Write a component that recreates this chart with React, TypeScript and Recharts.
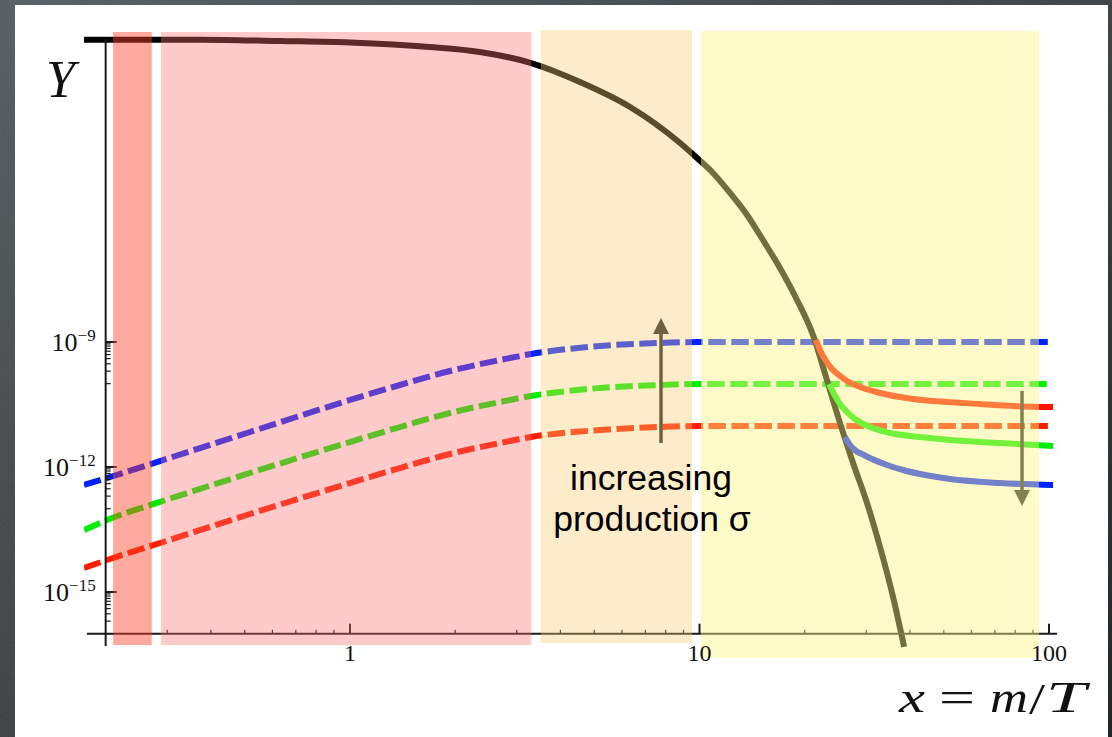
import React from 'react';
import {
  LineChart,
  Line,
  XAxis,
  YAxis,
  ReferenceArea,
  ReferenceLine,
  ReferenceDot,
} from 'recharts';

// ---- equilibrium abundance Y_eq(x) ----
const eqX = [0.1734, 0.372, 0.63, 1.0, 1.69, 2.35, 3.3, 4.55, 6.33, 8.8, 9.84, 10.93, 12.23, 13.68, 15.19, 16.99, 19.01, 21.12, 23.16, 25.23, 27.5, 30.15, 32.85, 35.79, 38.5];
const eqY = [1.8e-2, 1.8e-2, 1.67e-2, 1.54e-2, 1.2e-2, 9.1e-3, 4.95e-3, 1.74e-3, 4.37e-4, 5.97e-5, 2.6e-5, 1.14e-5, 3.77e-6, 1.12e-6, 2.8e-7, 5.97e-8, 1.02e-8, 1.47e-9, 1.22e-10, 1.14e-11, 1.25e-12, 1.37e-13, 1.2e-14, 7.6e-16, 4.8e-17];

// ---- produced abundance (dashed), three production cross sections ----
const prodX = [0.1734, 0.2017, 0.286, 0.5175, 1.0, 1.39, 1.932, 2.686, 3.296, 5.19, 7.71, 10.03, 100];
const prodHigh = [3.7e-13, 5.45e-13, 1.39e-12, 6.92e-12, 4.06e-11, 9.29e-11, 2.01e-10, 3.7e-10, 5.15e-10, 8.02e-10, 9.46e-10, 1e-9, 1e-9];
const prodMid = [3.08e-14, 5.35e-14, 1.45e-13, 7.18e-13, 3.98e-12, 9.12e-12, 1.98e-11, 3.63e-11, 5.06e-11, 7.87e-11, 9.29e-11, 9.82e-11, 9.82e-11];
const prodLow = [3.77e-15, 5.86e-15, 1.5e-14, 7.45e-14, 4.13e-13, 9.46e-13, 2.05e-12, 3.77e-12, 5.25e-12, 7.73e-12, 9.12e-12, 9.64e-12, 9.64e-12];

// ---- freeze-out relic curves (solid) ----
const relicRedX = [21.54, 22.12, 23.01, 23.94, 25.23, 26.42, 29.37, 32.85, 40.82, 51.07, 63.47, 78.89, 102.7];
const relicRedY = [1.12e-9, 6.43e-10, 3.5e-10, 2.25e-10, 1.53e-10, 1.16e-10, 7.87e-11, 5.97e-11, 4.29e-11, 3.63e-11, 3.25e-11, 2.91e-11, 2.75e-11];
const relicGreenX = [23.48, 24.26, 25.23, 26.42, 27.86, 30.74, 35.09, 42.75, 52.09, 72.4, 102.7];
const relicGreenY = [9.82e-11, 5.65e-11, 3.25e-11, 2.09e-11, 1.42e-11, 9.12e-12, 6.55e-12, 5.25e-12, 4.45e-12, 3.77e-12, 3.19e-12];
const relicBlueX = [26.08, 26.96, 28.04, 29.17, 30.74, 34.4, 38.22, 42.75, 52.09, 72.4, 102.7];
const relicBlueY = [5.25e-12, 3.37e-12, 2.42e-12, 2.05e-12, 1.64e-12, 1.12e-12, 8.47e-13, 6.79e-13, 5.15e-13, 4.13e-13, 3.7e-13];

// ---- shaded epochs ----
const bandX1 = [0.21, 0.288, 3.52, 10.1];
const bandX2 = [0.271, 3.3, 9.52, 93.6];
const bandTop = [2.75e-2, 2.75e-2, 3.07e-2, 2.9e-2];
const bandBottom = [5.37e-17, 5.37e-17, 6.0e-17, 2.63e-17];
const bandFill = ['rgb(255,67,40)', 'rgb(255,110,110)', 'rgb(250,203,111)', 'rgb(255,247,133)'];
const bandOpacity = [0.45, 0.37, 0.37, 0.45];

// ---- arrows ----
const arrowX = [7.76, 83.7];
const arrowFrom = [3.77e-12, 6.67e-11];
const arrowTo = [3.77e-9, 1.16e-13];

// ---- axes ----
const X_DOMAIN: [number, number] = [0.1734, 107.5];
const Y_DOMAIN: [number, number] = [2.336e-17, 3.431e-2];
const AXIS_X = 0.2;
const AXIS_Y = 1e-16;
const xMajorTicks = [1, 10, 100];
const xMajorLabels = ['1', '10', '100'];
const xMinorTicks = [0.3, 0.4, 0.5, 0.6, 0.7, 0.8, 0.9, 2, 3, 4, 5, 6, 7, 8, 9, 20, 30, 40, 50, 60, 70, 80, 90];
const yMajorTicks = [1e-9, 1e-12, 1e-15];
const yMajorLabels = ['\u22129', '\u221212', '\u221215'];
const yMinorFactors = [0.1, 0.2, 0.3, 0.4, 0.5, 0.6, 0.7, 0.8, 0.9];

const zip = (xs: number[], ys: number[]) => xs.map((x, i) => ({ x, y: ys[i] }));

const eqData = zip(eqX, eqY);
const highData = zip(prodX, prodHigh);
const midData = zip(prodX, prodMid);
const lowData = zip(prodX, prodLow);
const redData = zip(relicRedX, relicRedY);
const greenData = zip(relicGreenX, relicGreenY);
const blueData = zip(relicBlueX, relicBlueY);

const AXIS_COLOR = '#1a1a1a';
const ARROW_COLOR = '#222222';
const SERIF = '"Liberation Serif", "DejaVu Serif", serif';
const SANS = '"Liberation Sans", Arial, sans-serif';
const DASH = '17.5 5.5';

const yTickShape = (len: number, w: number) => (p: any) => (
  <line x1={p.cx} y1={p.cy} x2={p.cx + len} y2={p.cy} stroke={AXIS_COLOR} strokeWidth={w} />
);
const xTickShape = (len: number, w: number) => (p: any) => (
  <line x1={p.cx} y1={p.cy} x2={p.cx} y2={p.cy - len} stroke={AXIS_COLOR} strokeWidth={w} />
);
const yLabelShape = (exp: string) => (p: any) => (
  <text x={p.cx - 10} y={p.cy + 9} textAnchor="end" fontFamily={SERIF} fontSize={26} fill="#111">
    10
    <tspan dy={-10} fontSize={17}>
      {exp}
    </tspan>
  </text>
);
const xLabelShape = (label: string) => (p: any) => (
  <text x={p.cx} y={p.cy + 27} textAnchor="middle" fontFamily={SERIF} fontSize={24} fill="#111">
    {label}
  </text>
);

const arrowShape = (p: any) => {
  const { x1, y1, x2, y2 } = p;
  const dir = Math.sign(y2 - y1);
  const head = 16;
  const half = 8;
  return (
    <g>
      <line x1={x1} y1={y1} x2={x2} y2={y2 - dir * head} stroke={ARROW_COLOR} strokeWidth={3.5} />
      <polygon
        points={`${x2},${y2} ${x2 - half},${y2 - dir * head} ${x2 + half},${y2 - dir * head}`}
        fill={ARROW_COLOR}
      />
    </g>
  );
};

export default function App() {
  return (
    <div style={{ position: 'absolute', left: 0, top: 0, width: 1112, height: 737, overflow: 'hidden' }}>
      <svg width={1112} height={737} style={{ position: 'absolute', left: 0, top: 0 }}>
        <defs>
          <linearGradient id="frameShade" x1="0" y1="0" x2="1" y2="1">
            <stop offset="0" stopColor="#525c62" />
            <stop offset="0.55" stopColor="#363b3f" />
            <stop offset="1" stopColor="#1b1c1d" />
          </linearGradient>
          <filter id="frameGrain">
            <feTurbulence type="fractalNoise" baseFrequency="0.85" numOctaves={2} stitchTiles="stitch" />
            <feColorMatrix type="saturate" values="0" />
          </filter>
        </defs>
        <rect width={1112} height={737} fill="url(#frameShade)" />
        <rect width={1112} height={737} filter="url(#frameGrain)" opacity={0.12} />
        <rect x={15} y={5} width={1093} height={740} fill="#ffffff" />
      </svg>

      <div style={{ position: 'absolute', left: 0, top: 0 }}>
        <LineChart width={1112} height={737} margin={{ top: 28, right: 52, bottom: 77, left: 84 }}>
          <XAxis type="number" dataKey="x" scale="log" domain={X_DOMAIN} allowDataOverflow hide />
          <YAxis type="number" scale="log" domain={Y_DOMAIN} allowDataOverflow hide />

          {/* produced abundance, dashed */}
          <Line data={highData} dataKey="y" type="monotone" stroke="#0022ff" strokeWidth={6} strokeDasharray={DASH} dot={false} isAnimationActive={false} zIndex={400} />
          <Line data={midData} dataKey="y" type="monotone" stroke="#00ee00" strokeWidth={6} strokeDasharray={DASH} dot={false} isAnimationActive={false} zIndex={400} />
          <Line data={lowData} dataKey="y" type="monotone" stroke="#ff1e00" strokeWidth={6} strokeDasharray={DASH} dot={false} isAnimationActive={false} zIndex={400} />

          {/* equilibrium abundance */}
          <Line data={eqData} dataKey="y" type="monotone" stroke="#000000" strokeWidth={6} dot={false} isAnimationActive={false} zIndex={410} />

          {/* freeze-out relics */}
          <Line data={redData} dataKey="y" type="monotone" stroke="#ff1400" strokeWidth={6} dot={false} isAnimationActive={false} zIndex={420} />
          <Line data={greenData} dataKey="y" type="monotone" stroke="#00ee00" strokeWidth={6} dot={false} isAnimationActive={false} zIndex={420} />
          <Line data={blueData} dataKey="y" type="monotone" stroke="#0022ff" strokeWidth={6} dot={false} isAnimationActive={false} zIndex={420} />

          {/* axes lines */}
          <ReferenceLine segment={[{ x: AXIS_X, y: 5.07e-17 }, { x: AXIS_X, y: 1.9e-2 }]} stroke={AXIS_COLOR} strokeWidth={2} zIndex={450} />
          <ReferenceLine segment={[{ x: 0.1768, y: AXIS_Y }, { x: 105.4, y: AXIS_Y }]} stroke={AXIS_COLOR} strokeWidth={2} zIndex={450} />

          {yMajorTicks.map((t) => (
            <ReferenceDot key={`yM${t}`} x={AXIS_X} y={t} r={1} shape={yTickShape(11, 2)} zIndex={450} />
          ))}
          {yMajorTicks.flatMap((t) =>
            yMinorFactors.map((f) => (
              <ReferenceDot key={`ym${t}-${f}`} x={AXIS_X} y={t * f} r={1} shape={yTickShape(5, 1.2)} zIndex={450} />
            ))
          )}
          {xMajorTicks.map((t) => (
            <ReferenceDot key={`xM${t}`} x={t} y={AXIS_Y} r={1} shape={xTickShape(10, 2)} zIndex={450} />
          ))}
          {xMinorTicks.map((t) => (
            <ReferenceDot key={`xm${t}`} x={t} y={AXIS_Y} r={1} shape={xTickShape(4, 1.2)} zIndex={450} />
          ))}

          {/* arrows */}
          {arrowX.map((x, i) => (
            <ReferenceLine
              key={`arrow${i}`}
              segment={[{ x, y: arrowFrom[i] }, { x, y: arrowTo[i] }]}
              shape={arrowShape}
              zIndex={460}
            />
          ))}

          {/* shaded epochs, drawn over the curves */}
          {bandX1.map((x1, i) => (
            <ReferenceArea
              key={`band${i}`}
              x1={x1}
              x2={bandX2[i]}
              y1={bandBottom[i]}
              y2={bandTop[i]}
              fill={bandFill[i]}
              fillOpacity={bandOpacity[i]}
              stroke="none"
              zIndex={700}
            />
          ))}

          {/* tick labels */}
          {yMajorTicks.map((t, i) => (
            <ReferenceDot key={`yl${t}`} x={AXIS_X} y={t} r={1} shape={yLabelShape(yMajorLabels[i])} zIndex={900} />
          ))}
          {xMajorTicks.map((t, i) => (
            <ReferenceDot key={`xl${t}`} x={t} y={AXIS_Y} r={1} shape={xLabelShape(xMajorLabels[i])} zIndex={900} />
          ))}
        </LineChart>
      </div>

      <svg width={1112} height={737} style={{ position: 'absolute', left: 0, top: 0, pointerEvents: 'none' }}>
        <text x={46} y={97} fontFamily={SERIF} fontStyle="italic" fontSize={52} fill="#111">
          Y
        </text>
        <text x={651} y={490} textAnchor="middle" fontFamily={SANS} fontSize={35.5} fill="#000">
          increasing
        </text>
        <text x={652} y={531} textAnchor="middle" fontFamily={SANS} fontSize={35.5} fill="#000">
          production σ
        </text>
        <g fontFamily={SERIF} fontSize={44} fill="#111">
          <text x={899} y={712} fontStyle="italic" textLength={26} lengthAdjust="spacingAndGlyphs">x</text>
          <text x={939} y={712} textLength={36} lengthAdjust="spacingAndGlyphs">=</text>
          <text x={990} y={712} fontStyle="italic" textLength={38} lengthAdjust="spacingAndGlyphs">m</text>
          <text x={1029} y={714} textLength={16} lengthAdjust="spacingAndGlyphs">/</text>
          <text x={1046} y={712} fontStyle="italic" textLength={40} lengthAdjust="spacingAndGlyphs">T</text>
        </g>
      </svg>
    </div>
  );
}
